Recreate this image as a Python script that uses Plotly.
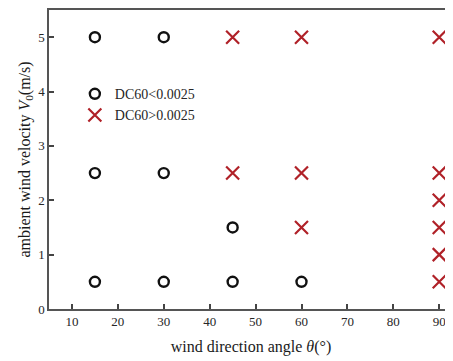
import plotly.graph_objects as go

# Data
ok_theta = [15, 30, 15, 30, 45, 15, 30, 45, 60]
ok_v = [5, 5, 2.5, 2.5, 1.5, 0.5, 0.5, 0.5, 0.5]
bad_theta = [45, 60, 90, 45, 60, 90, 90, 60, 90, 90, 90]
bad_v = [5, 5, 5, 2.5, 2.5, 2.5, 2, 1.5, 1.5, 1, 0.5]
x_ticks = [10, 20, 30, 40, 50, 60, 70, 80, 90]
y_ticks = [0, 1, 2, 3, 4, 5]

FONT = "Liberation Serif"
RED = "#b02128"
TXT = "#262626"

fig = go.Figure()
fig.add_trace(go.Scatter(
    x=ok_theta, y=ok_v, mode="markers", name="DC60<0.0025",
    marker=dict(symbol="circle-open", size=10, color="#111111",
                line=dict(width=2.4, color="#111111")),
))
fig.add_trace(go.Scatter(
    x=bad_theta, y=bad_v, mode="markers", name="DC60>0.0025",
    marker=dict(symbol="x-thin-open", size=13, color=RED,
                line=dict(width=2.2, color=RED)),
))

fig.update_layout(
    width=445, height=353,
    margin=dict(l=41, r=0, t=0, b=52, pad=0),
    paper_bgcolor="white", plot_bgcolor="white",
    font=dict(family=FONT, size=12, color=TXT),
    showlegend=True,
    legend=dict(x=0.064, y=0.772, xanchor="left", yanchor="top",
                bgcolor="rgba(0,0,0,0)", font=dict(family=FONT, size=14, color=TXT),
                tracegroupgap=0),
    xaxis=dict(
        range=[5, 93], tickvals=x_ticks, ticktext=[str(t) for t in x_ticks],
        ticks="inside", ticklen=5, tickwidth=1.5, tickcolor="#444444",
        showline=True, linecolor="#555555", linewidth=1.5, mirror=True,
        showgrid=False, zeroline=False,
        tickfont=dict(family=FONT, size=13, color=TXT),
        title=dict(text="wind direction angle <i>θ</i>(°)", standoff=12,
                   font=dict(family=FONT, size=16, color="#1a1a1a")),
    ),
    yaxis=dict(
        range=[0, 5.5], tickvals=y_ticks, ticktext=[str(t) for t in y_ticks],
        ticks="inside", ticklen=5, tickwidth=1.5, tickcolor="#444444",
        showline=True, linecolor="#555555", linewidth=1.5,
        showgrid=False, zeroline=False,
        tickfont=dict(family=FONT, size=13, color=TXT),
        title=dict(text="ambient wind velocity <i>V</i><sub>0</sub>(m/s)", standoff=4,
                   font=dict(family=FONT, size=16, color="#1a1a1a")),
    ),
)

fig.write_html("out.html")
